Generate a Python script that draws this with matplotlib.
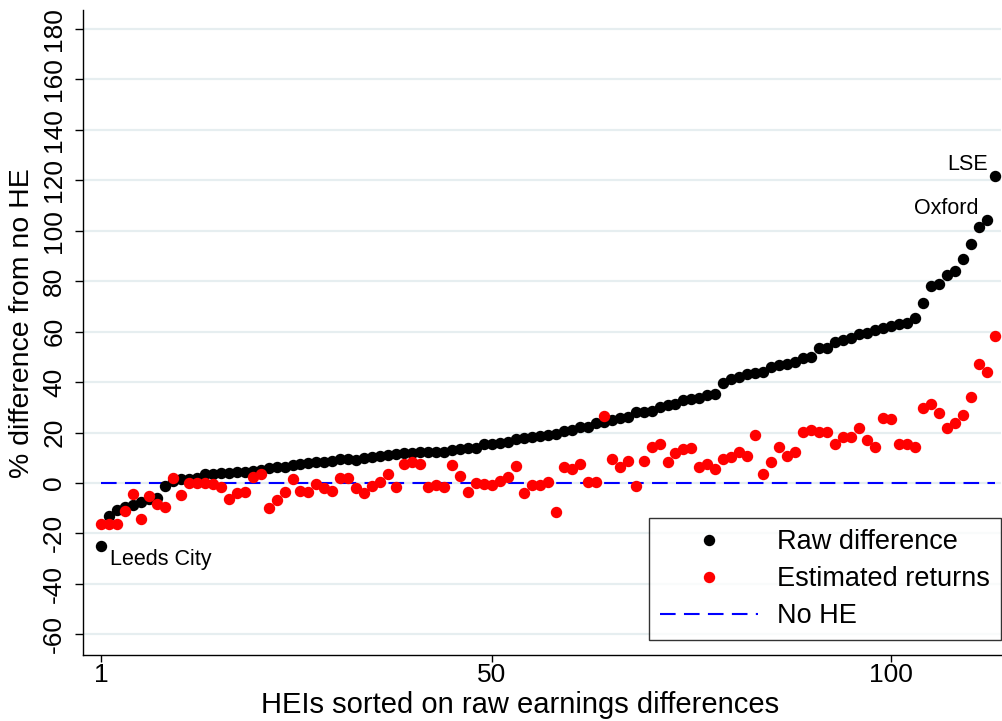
import matplotlib
matplotlib.use("Agg")
import matplotlib.pyplot as plt
import numpy as np

plt.rcParams['font.family'] = ['Liberation Sans', 'DejaVu Sans']

raw_difference = [
    -25.0, -13.0, -10.7, -9.6, -8.7, -7.4, -6.3, -5.8, -1.2, 0.9,
    1.5, 1.6, 1.9, 3.4, 3.6, 3.8, 4.0, 4.2, 4.5, 4.8,
    5.2, 5.8, 6.2, 6.5, 7.1, 7.5, 7.8, 8.2, 8.4, 8.8,
    9.4, 9.4, 9.3, 9.8, 10.2, 10.7, 11.1, 11.4, 11.8, 12.0,
    12.4, 12.4, 12.4, 12.4, 13.1, 13.4, 13.7, 13.7, 15.4, 15.5,
    16.0, 16.4, 17.4, 17.7, 18.4, 18.8, 19.0, 19.4, 20.7, 21.0,
    22.1, 22.3, 23.7, 24.1, 25.0, 25.6, 26.0, 28.0, 28.3, 28.7,
    30.0, 30.9, 31.3, 32.9, 33.2, 33.8, 34.8, 35.2, 39.5, 41.1,
    41.9, 43.1, 43.7, 44.1, 46.1, 46.8, 47.2, 48.1, 49.7, 50.1,
    53.4, 53.7, 56.0, 56.7, 57.4, 59.1, 59.3, 60.7, 61.6, 62.4,
    63.0, 63.3, 65.5, 71.5, 78.2, 78.8, 82.5, 84.0, 88.7, 94.8,
    101.6, 104.3, 121.8,
]

estimated_returns = [
    -16.3, -16.4, -16.3, -11.1, -4.4, -14.3, -5.2, -8.5, -9.6, 2.1,
    -4.8, -0.1, 0.1, 0.1, -0.5, -1.7, -6.3, -3.8, -3.7, 2.5,
    3.4, -9.8, -6.7, -3.4, 1.6, -3.0, -3.7, -0.4, -1.9, -3.2,
    2.1, 1.9, -2.1, -4.1, -1.2, 0.5, 3.6, -1.7, 7.5, 8.4,
    7.5, -1.5, -0.8, -1.5, 7.1, 2.9, -3.4, 0.1, -0.4, -0.8,
    0.9, 2.2, 6.7, -3.8, -0.8, -0.8, 0.5, -11.6, 6.2, 5.4,
    7.5, 0.5, 0.5, 26.7, 9.4, 6.2, 8.8, -1.1, 8.8, 14.4,
    15.3, 8.2, 12.0, 13.4, 13.7, 6.5, 7.4, 5.6, 9.5, 10.2,
    12.4, 10.7, 19.0, 3.6, 8.5, 14.2, 10.7, 12.4, 20.4, 21.0,
    20.1, 20.4, 15.5, 18.4, 18.4, 21.7, 17.0, 14.1, 25.9, 25.3,
    15.5, 15.3, 14.4, 29.6, 31.3, 27.6, 21.9, 23.7, 26.8, 34.0,
    47.2, 44.0, 58.1,
]

x_ticks = [1, 50, 100]
y_ticks = list(range(-60, 181, 20))
labels = {1: "Leeds City", 112: "Oxford", 113: "LSE"}

rank = np.arange(1, len(raw_difference) + 1)

W, H = 1003, 721
fig = plt.figure(figsize=(W / 100, H / 100), dpi=100)
ax = fig.add_axes([83 / W, 1 - 655 / H, (1001 - 83) / W, (655 - 10) / H])

for yv in y_ticks:
    ax.axhline(yv, color='#e6eef0', lw=1.6, zorder=0)

ax.plot(rank, raw_difference, 'o', color='black', ms=7.2, mec='black', label='Raw difference', zorder=3)
ax.plot(rank, estimated_returns, 'o', color='#ff0000', ms=7.2, mec='#ff0000', label='Estimated returns', zorder=4)
ax.plot([rank[0], rank[-1]], [0, 0], color='#0000ff', lw=1.5, dashes=(7.5, 4), label='No HE', zorder=2)

ax.set_xlim(-1.26, 113.8)
ax.set_ylim(-68.2, 187.5)
ax.set_xticks(x_ticks)
ax.set_yticks(y_ticks)
ax.set_yticklabels([str(v) for v in y_ticks], rotation=90, va='center')
ax.tick_params(axis='both', labelsize=19, width=1, color='black')
ax.tick_params(axis='y', length=6, pad=6)
ax.tick_params(axis='x', length=5, pad=1)

for s in ['top', 'right']:
    ax.spines[s].set_visible(False)
for s in ['left', 'bottom']:
    ax.spines[s].set_linewidth(1)

ax.set_xlabel('HEIs sorted on raw earnings differences', fontsize=21)
ax.set_ylabel('% difference from no HE', fontsize=20.5)
# place axis titles (axes-fraction coordinates)
ax.xaxis.set_label_coords((520 - 83) / (1001 - 83), -(705 - 655) / (655 - 10), transform=ax.transAxes)
ax.xaxis.label.set_va('center')
ax.yaxis.set_label_coords(-(83 - 22) / (1001 - 83), (655 - 323) / (655 - 10), transform=ax.transAxes)
ax.yaxis.label.set_va('center')

offsets = {1: (6.5, -9.5, 'left', 'center'), 112: (-6, 8.5, 'right', 'center'), 113: (-5, 8, 'right', 'center')}
for r, name in labels.items():
    dx, dy, ha, va = offsets[r]
    ax.annotate(name, (r, raw_difference[r - 1]), xytext=(dx, dy), textcoords='offset points',
                ha=ha, va=va, fontsize=15.5)

leg = ax.legend(loc='lower right', bbox_to_anchor=(1.0, 0.023), borderaxespad=0,
                fontsize=19.5, frameon=True, fancybox=False, edgecolor='black',
                handlelength=3.6, handletextpad=0.72, labelspacing=0.41, borderpad=0.4,
                numpoints=1)
leg.get_frame().set_linewidth(1)

fig.savefig('out.png', dpi=100)
